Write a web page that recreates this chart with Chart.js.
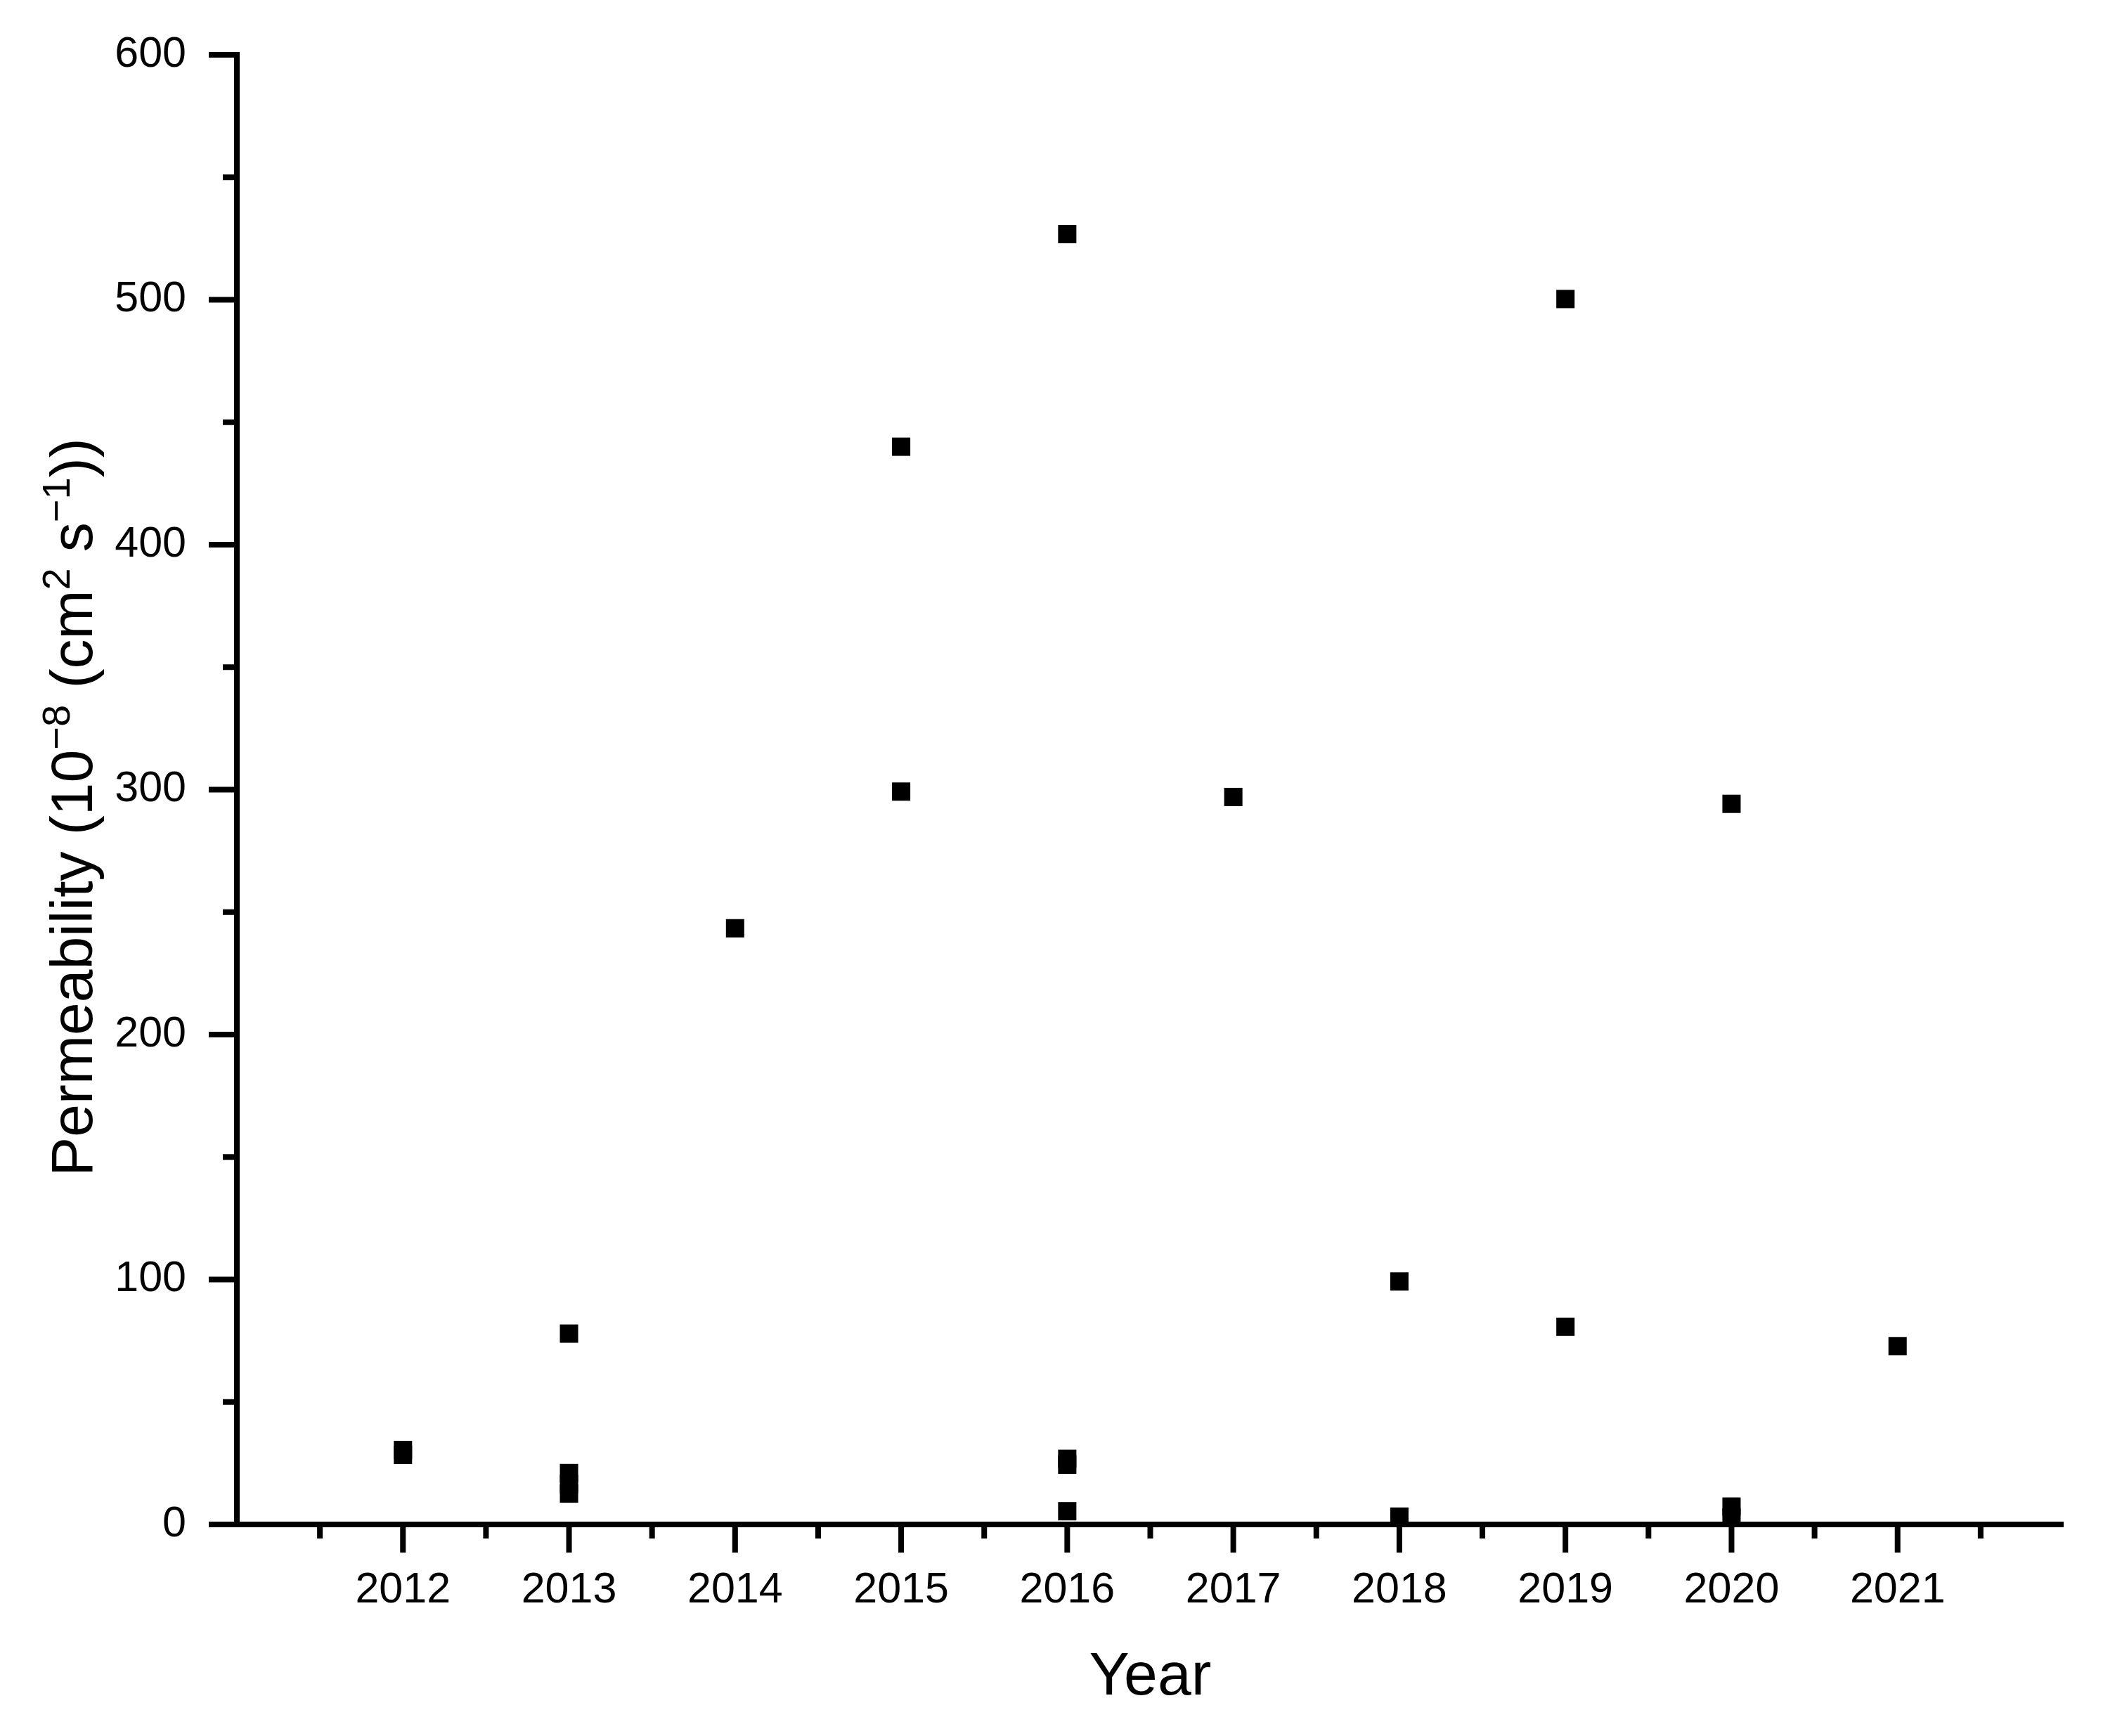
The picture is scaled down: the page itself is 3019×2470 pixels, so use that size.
<!DOCTYPE html>
<html>
<head>
<meta charset="utf-8">
<script src="https://cdn.jsdelivr.net/npm/chart.js@4.4.1/dist/chart.umd.min.js"></script>
<style>
  html, body { margin: 0; padding: 0; background: #fff; }
  #wrap { width: 3019px; height: 2470px; }
</style>
</head>
<body>
<div id="wrap"><canvas id="myChart" width="3019" height="2470"></canvas></div>
<script>
// data, one entry per marker
var years = [2012, 2012, 2013, 2013, 2013, 2013, 2014, 2015, 2015, 2016, 2016, 2016, 2016, 2017, 2018, 2018, 2019, 2019, 2020, 2020, 2020, 2021];
var permeability = [30.4, 28.4, 77.9, 21, 16.5, 12.6, 243.4, 440, 299.2, 526.8, 26.8, 24.4, 5.4, 297, 99.2, 3.2, 500.3, 80.7, 294.2, 7.3, 3, 72.8];

var yearLabels = [2012, 2013, 2014, 2015, 2016, 2017, 2018, 2019, 2020, 2021];
var yTicks = [0, 100, 200, 300, 400, 500, 600];
var xMin = 2011, xMax = 2022;

// y title in pieces, true = superscript
var yTitle = [['Permeability (10', false], ['\u22128', true], [' (cm', false], ['2', true], [' s', false], ['\u22121', true], ['))', false]];

var fontFam = '"Liberation Sans", Arial, "DejaVu Sans", sans-serif';

var punkty = [];
for (let i = 0; i < years.length; i++) {
    punkty.push({ x: years[i], y: permeability[i] });
}

// axis lines and major/minor ticks drawn by hand, positions from the scales
var osy = {
    id: 'osy',
    beforeDatasetsDraw: function (chart) {
        var ctx = chart.ctx;
        var xs = chart.scales.x, ys = chart.scales.y;
        var x0 = xs.getPixelForValue(xMin), x1 = xs.getPixelForValue(xMax);
        var y0 = ys.getPixelForValue(0), y1 = ys.getPixelForValue(600);
        ctx.save();
        ctx.strokeStyle = '#000';
        ctx.lineWidth = 8;
        ctx.lineCap = 'butt';
        ctx.beginPath();
        ctx.moveTo(x0, y1 - 4); ctx.lineTo(x0, y0 + 4);
        ctx.moveTo(x0 - 4, y0); ctx.lineTo(x1, y0);
        // y ticks
        for (var v = 0; v <= 600; v += 50) {
            var py = ys.getPixelForValue(v);
            var len = (v % 100 == 0) ? 40 : 20;
            ctx.moveTo(x0, py); ctx.lineTo(x0 - len, py);
        }
        // x ticks
        for (var t = xMin + 0.5; t < xMax; t += 0.5) {
            var px = xs.getPixelForValue(t);
            var l = (t % 1 == 0) ? 40 : 20;
            ctx.moveTo(px, y0); ctx.lineTo(px, y0 + l);
        }
        ctx.stroke();
        ctx.restore();
    },
    afterDraw: function (chart) {
        // rotated y title with real superscripts
        var ctx = chart.ctx;
        var ys = chart.scales.y;
        var hlavni = '84px ' + fontFam, maly = '56px ' + fontFam;
        ctx.save();
        var sirka = 0;
        for (var i = 0; i < yTitle.length; i++) {
            ctx.font = yTitle[i][1] ? maly : hlavni;
            sirka += ctx.measureText(yTitle[i][0]).width;
        }
        var cy = (ys.top + ys.bottom) / 2 + 25;
        ctx.translate(131, cy);
        ctx.rotate(-Math.PI / 2);
        ctx.fillStyle = '#000';
        ctx.textBaseline = 'alphabetic';
        ctx.textAlign = 'left';
        var pos = -sirka / 2;
        for (var j = 0; j < yTitle.length; j++) {
            ctx.font = yTitle[j][1] ? maly : hlavni;
            ctx.fillText(yTitle[j][0], pos, yTitle[j][1] ? -32 : 0);
            pos += ctx.measureText(yTitle[j][0]).width;
        }
        ctx.restore();
    }
};

var ctx = document.getElementById('myChart').getContext('2d');
var graf = new Chart(ctx, {
    type: 'scatter',
    data: {
        datasets: [{
            label: 'Permeability',
            data: punkty,
            pointStyle: 'rect',
            pointRadius: 18.4,
            pointHoverRadius: 18.4,
            pointBorderWidth: 0,
            backgroundColor: '#000',
            borderColor: '#000',
            clip: false
        }]
    },
    options: {
        responsive: false,
        animation: false,
        devicePixelRatio: 1,
        layout: { padding: { top: 78, right: 83, left: 0, bottom: 0 } },
        plugins: {
            legend: { display: false },
            tooltip: { enabled: false }
        },
        scales: {
            x: {
                type: 'linear',
                min: xMin,
                max: xMax,
                grid: { display: false, drawTicks: false },
                border: { display: false },
                afterFit: function (s) { s.height = 301; },
                afterBuildTicks: function (s) {
                    s.ticks = yearLabels.map(function (r) { return { value: r }; });
                },
                ticks: {
                    autoSkip: false,
                    maxRotation: 0,
                    padding: 58,
                    color: '#000',
                    font: { family: fontFam, size: 61 },
                    callback: function (v) { return String(v); }
                },
                title: {
                    display: true,
                    text: 'Year',
                    color: '#000',
                    font: { family: fontFam, size: 86 },
                    padding: { top: 0, bottom: 31 }
                }
            },
            y: {
                min: 0,
                max: 600,
                grid: { display: false, drawTicks: true, tickLength: 60 },
                border: { display: false },
                afterFit: function (s) { s.width = 337; },
                afterBuildTicks: function (s) {
                    s.ticks = yTicks.map(function (r) { return { value: r }; });
                },
                ticks: {
                    padding: 12,
                    color: '#000',
                    font: { family: fontFam, size: 61 },
                    callback: function (v) { return String(v); }
                },
                title: { display: false }
            }
        }
    },
    plugins: [osy]
});
</script>
</body>
</html>
